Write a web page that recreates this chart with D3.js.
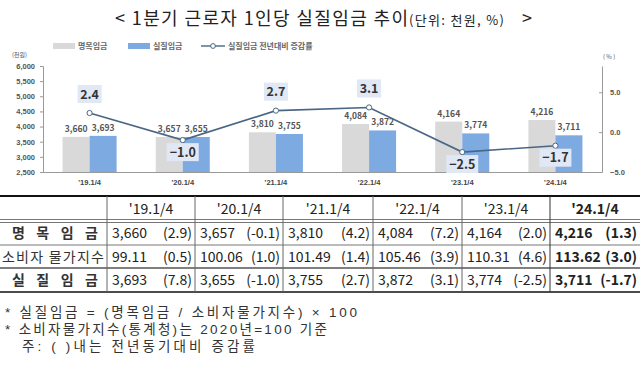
<!DOCTYPE html>
<html>
<head>
<meta charset="utf-8">
<script src="https://cdn.jsdelivr.net/npm/d3@7"></script>
<style>
  body { margin: 0; background: #fff; }
  svg { display: block; font-family: "Noto Sans CJK KR", "Noto Sans", sans-serif; }
</style>
</head>
<body>
<div id="chart"></div>
<script>
// data
const categories = ["'19.1/4", "'20.1/4", "'21.1/4", "'22.1/4", "'23.1/4", "'24.1/4"];
const nominalWage = [3660, 3657, 3810, 4084, 4164, 4216];
const realWage = [3693, 3655, 3755, 3872, 3774, 3711];
const realWageRate = [2.4, -1.0, 2.7, 3.1, -2.5, -1.7];
const leftTicks = [2500, 3000, 3500, 4000, 4500, 5000, 5500, 6000];
const rightTicks = [-5.0, 0.0, 5.0];

// table rows
const rowLabels = ["명 목 임 금", "소비자 물가지수", "실 질 임 금"];
const nominalChange = ["(2.9)", "(-0.1)", "(4.2)", "(7.2)", "(2.0)", "(1.3)"];
const cpiValues = ["99.11", "100.06", "101.49", "105.46", "110.31", "113.62"];
const cpiChange = ["(0.5)", "(1.0)", "(1.4)", "(3.9)", "(4.6)", "(3.0)"];
const realChange = ["(7.8)", "(-1.0)", "(2.7)", "(3.1)", "(-2.5)", "(-1.7)"];

const W = 640, H = 373;
const svg = d3.select("#chart").append("svg").attr("width", W).attr("height", H);

// title
const title = svg.append("text")
  .attr("y", 25)
  .attr("fill", "#222")
  .style("font-size", "18px");
title.append("tspan").attr("x", 115).attr("textLength", 293).attr("lengthAdjust", "spacing")
  .text("< 1분기 근로자 1인당 실질임금 추이");
title.append("tspan").attr("x", 409).attr("textLength", 95).attr("lengthAdjust", "spacing")
  .style("font-size", "13px").text("(단위: 천원, %)");
title.append("tspan").attr("x", 522).text(">");

// scales
const plotL = 43, plotR = 602, plotT = 66, plotB = 172;
const x = d3.scaleBand().domain(categories).range([plotL, plotR]).paddingInner(0.42).paddingOuter(0.21);
const xs = d3.scaleBand().domain(["nominal", "real"]).range([0, x.bandwidth()]);
const y = d3.scaleLinear().domain([2500, 6000]).range([plotB, plotT]);
const y2 = d3.scaleLinear().domain([-5, 8.3]).range([plotB, plotT]);

const gray = "#d9d9d9", blue = "#7eaae2", lineColor = "#4a6685";

// axes
const yAxis = svg.append("g").attr("transform", `translate(${plotL},0)`)
  .call(d3.axisLeft(y).tickValues(leftTicks).tickFormat(d3.format(",")).tickSize(3));
yAxis.selectAll("text").attr("fill", "#555").style("font-size", "7.5px").style("font-weight", "bold").attr("dx", "-2");
yAxis.selectAll("line").attr("stroke", "#999");
yAxis.select(".domain").attr("stroke", "#999");

const y2Axis = svg.append("g").attr("transform", `translate(${plotR},0)`)
  .call(d3.axisRight(y2).tickValues(rightTicks).tickFormat(d3.format(".1f")).tickSizeInner(-3).tickSizeOuter(0));
y2Axis.selectAll("text").attr("fill", "#555").style("font-size", "7.5px").style("font-weight", "bold").attr("x", 8);
y2Axis.selectAll("line").attr("stroke", "#999");
y2Axis.select(".domain").attr("stroke", "#999");

const xAxis = svg.append("g").attr("transform", `translate(0,${plotB})`)
  .call(d3.axisBottom(x).tickSize(0).tickPadding(8));
xAxis.selectAll("text").attr("fill", "#444").style("font-size", "7.5px").style("font-weight", "bold");
xAxis.select(".domain").attr("stroke", "#999");

// axis unit labels
svg.append("text").attr("x", 12).attr("y", 57).attr("fill", "#555").style("font-size", "6px").text("(천원)");
svg.append("text").attr("x", 603).attr("y", 59).attr("fill", "#555").style("font-size", "6px").text("( % )");

// bars
const groups = svg.append("g").selectAll("g").data(categories).join("g")
  .attr("transform", d => `translate(${x(d)},0)`);
groups.append("rect")
  .attr("x", xs("nominal")).attr("width", xs.bandwidth())
  .attr("y", (d, i) => y(nominalWage[i])).attr("height", (d, i) => plotB - y(nominalWage[i]))
  .attr("fill", gray);
groups.append("rect")
  .attr("x", xs("real")).attr("width", xs.bandwidth())
  .attr("y", (d, i) => y(realWage[i])).attr("height", (d, i) => plotB - y(realWage[i]))
  .attr("fill", blue);
groups.append("text")
  .attr("x", xs("nominal") + xs.bandwidth() / 2)
  .attr("y", (d, i) => y(nominalWage[i]) - 5)
  .attr("text-anchor", "middle").attr("fill", "#555")
  .style("font-size", "8.5px").style("font-weight", "bold")
  .text((d, i) => d3.format(",")(nominalWage[i]));
groups.append("text")
  .attr("x", xs("real") + xs.bandwidth() / 2)
  .attr("y", (d, i) => y(realWage[i]) - 5)
  .attr("text-anchor", "middle").attr("fill", "#555")
  .style("font-size", "8.5px").style("font-weight", "bold")
  .text((d, i) => d3.format(",")(realWage[i]));

// line
const cx = d => x(d) + x.bandwidth() / 2;
const line = d3.line().x(d => cx(d)).y((d, i) => y2(realWageRate[i]));
svg.append("path").datum(categories).attr("d", line)
  .attr("fill", "none").attr("stroke", lineColor).attr("stroke-width", 1.6);
svg.append("g").selectAll("circle").data(categories).join("circle")
  .attr("cx", cx).attr("cy", (d, i) => y2(realWageRate[i])).attr("r", 2.6)
  .attr("fill", "#fff").attr("stroke", lineColor).attr("stroke-width", 1);

const rateLabels = svg.append("g").selectAll("g").data(categories).join("g")
  .attr("transform", (d, i) => `translate(${cx(d)},${y2(realWageRate[i]) + (realWageRate[i] >= 0 ? -19 : 12)})`);
rateLabels.append("rect")
  .attr("x", (d, i) => realWageRate[i] < 0 ? -16 : -12).attr("y", -9)
  .attr("width", (d, i) => realWageRate[i] < 0 ? 32 : 24).attr("height", 18)
  .attr("fill", "#dfe8f4");
rateLabels.append("text")
  .attr("text-anchor", "middle").attr("dy", "0.36em")
  .attr("fill", "#333").style("font-size", "12.5px").style("font-weight", "bold")
  .text((d, i) => d3.format(".1f")(realWageRate[i]));

// legend
const leg = svg.append("g").attr("transform", "translate(0,46)");
leg.append("rect").attr("x", 53).attr("y", -3).attr("width", 22).attr("height", 6).attr("fill", gray);
leg.append("text").attr("x", 78).attr("dy", "0.35em").attr("fill", "#666").style("font-size", "8px").style("font-weight", "bold").text("명목임금");
leg.append("rect").attr("x", 128).attr("y", -3).attr("width", 22).attr("height", 6).attr("fill", blue);
leg.append("text").attr("x", 153).attr("dy", "0.35em").attr("fill", "#666").style("font-size", "8px").style("font-weight", "bold").text("실질임금");
leg.append("line").attr("x1", 201).attr("x2", 225).attr("stroke", lineColor).attr("stroke-width", 1.4);
leg.append("circle").attr("cx", 213).attr("r", 2.4).attr("fill", "#fff").attr("stroke", lineColor);
leg.append("text").attr("x", 228).attr("dy", "0.35em").attr("fill", "#666").style("font-size", "8px").style("font-weight", "bold").text("실질임금 전년대비 증감률");

// table
const colX = [0, 107, 195, 283, 373, 462, 550, 640];
const rowY = [196, 221, 245, 268, 292];
const tbl = svg.append("g");
const cellVal = [
  nominalWage.map(d3.format(",")),
  cpiValues,
  realWage.map(d3.format(","))
];
const cellChg = [nominalChange, cpiChange, realChange];

// horizontal rules
tbl.append("line").attr("x1", 0).attr("x2", 640).attr("y1", rowY[0]).attr("y2", rowY[0]).attr("stroke", "#111").attr("stroke-width", 2);
tbl.append("line").attr("x1", 0).attr("x2", 640).attr("y1", rowY[1] - 1.5).attr("y2", rowY[1] - 1.5).attr("stroke", "#777").attr("stroke-width", 1);
tbl.append("line").attr("x1", 0).attr("x2", 640).attr("y1", rowY[1] + 1.5).attr("y2", rowY[1] + 1.5).attr("stroke", "#777").attr("stroke-width", 1);
tbl.append("line").attr("x1", 0).attr("x2", 640).attr("y1", rowY[2]).attr("y2", rowY[2]).attr("stroke", "#777").attr("stroke-width", 1);
tbl.append("line").attr("x1", 0).attr("x2", 640).attr("y1", rowY[3]).attr("y2", rowY[3]).attr("stroke", "#555").attr("stroke-width", 1.3);
tbl.append("line").attr("x1", 0).attr("x2", 640).attr("y1", rowY[4]).attr("y2", rowY[4]).attr("stroke", "#111").attr("stroke-width", 1.6);
// vertical rules
tbl.selectAll("line.v").data(colX.slice(1, -1)).join("line").attr("class", "v")
  .attr("x1", d => d).attr("x2", d => d).attr("y1", rowY[0]).attr("y2", rowY[4])
  .attr("stroke", (d, i) => i === 5 ? "#333" : "#666").attr("stroke-width", 1);

// header
tbl.selectAll("text.h").data(categories).join("text").attr("class", "h")
  .attr("x", (d, i) => (colX[i + 1] + colX[i + 2]) / 2).attr("y", (rowY[0] + rowY[1]) / 2)
  .attr("dy", "0.36em").attr("text-anchor", "middle").attr("fill", "#222")
  .style("font-size", "14px").style("font-weight", (d, i) => i === 5 ? "bold" : "normal")
  .text(d => d);

// row labels
rowLabels.forEach((lab, r) => {
  const yc = (rowY[r + 1] + rowY[r + 2]) / 2;
  tbl.append("text")
    .attr("x", r === 1 ? 2 : 12).attr("y", yc).attr("dy", "0.36em")
    .attr("textLength", r === 1 ? 102 : 86).attr("lengthAdjust", "spacing")
    .attr("fill", "#333").style("font-size", "14px").style("font-weight", r === 1 ? "normal" : "bold")
    .text(lab);
  categories.forEach((c, i) => {
    const bold = i === 5 ? "bold" : "normal";
    tbl.append("text")
      .attr("x", colX[i + 1] + 5).attr("y", yc).attr("dy", "0.36em")
      .attr("fill", "#222").style("font-size", "14px").style("font-weight", bold)
      .text(cellVal[r][i]);
    tbl.append("text")
      .attr("x", colX[i + 2] - 3).attr("y", yc).attr("dy", "0.36em").attr("text-anchor", "end")
      .attr("fill", "#222").style("font-size", "14px").style("font-weight", bold)
      .text(cellChg[r][i]);
  });
});

// footnotes
const notes = [
  { x: 5, len: 352, t: "* 실질임금 = (명목임금 / 소비자물가지수) × 100" },
  { x: 5, len: 322, t: "* 소비자물가지수(통계청)는 2020년=100 기준" },
  { x: 22, len: 233, t: "주: (   )내는 전년동기대비 증감률" }
];
svg.append("g").selectAll("text").data(notes).join("text")
  .attr("x", d => d.x).attr("y", (d, i) => 312 + i * 17).attr("dy", "0.36em")
  .attr("textLength", d => d.len).attr("lengthAdjust", "spacing")
  .attr("fill", "#333").style("font-size", "13.5px")
  .style("font-family", "'Liberation Sans', 'Noto Sans CJK KR', sans-serif")
  .text(d => d.t);
</script>
</body>
</html>
